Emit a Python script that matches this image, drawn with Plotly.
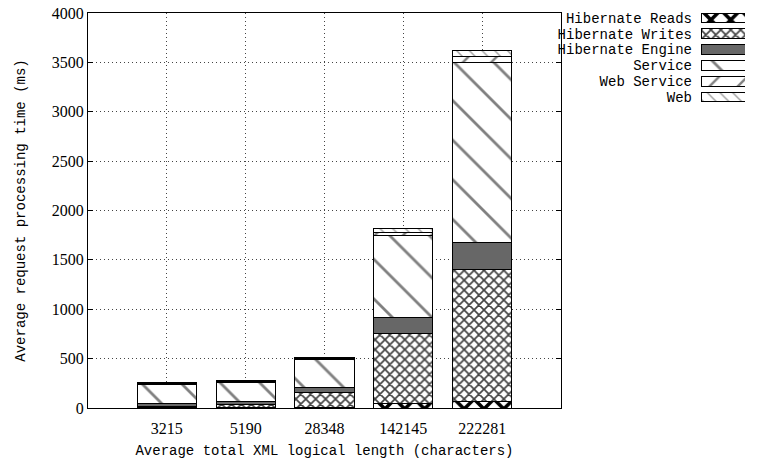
import plotly.graph_objects as go

# Average total XML logical length (characters) of each workload
categories = ["3215", "5190", "28348", "142145", "222281"]

# Average request processing time (ms) per component, stacked bottom to top
hibernate_reads = [5, 8, 10, 43, 70]
hibernate_writes = [8, 28, 142, 715, 1331]
hibernate_engine = [35, 30, 51, 162, 270]
service = [190, 190, 287, 827, 1823]
web_service = [15, 15, 12, 34, 67]
web = [10, 12, 10, 34, 61]

series_names = ["Hibernate Reads", "Hibernate Writes", "Hibernate Engine",
                "Service", "Web Service", "Web"]
series_values = [hibernate_reads, hibernate_writes, hibernate_engine,
                 service, web_service, web]

y_ticks = [0, 500, 1000, 1500, 2000, 2500, 3000, 3500, 4000]

FONT = "Liberation Mono"
NUM_FONT = "Liberation Serif"


def hatch(shape, fg, size, solidity):
    return dict(shape=shape, fgcolor=fg, bgcolor="white", fgopacity=1,
                size=size, solidity=solidity, fillmode="replace")


# fill style per component
styles = {
    "Hibernate Reads": dict(color="white", pattern=hatch("x", "#000000", 14, 0.45)),
    "Hibernate Writes": dict(color="white", pattern=hatch("x", "#444444", 7, 0.42)),
    "Hibernate Engine": dict(color="#676767"),
    "Service": dict(color="white", pattern=hatch("\\", "#808080", 28, 0.1)),
    "Web Service": dict(color="white", pattern=hatch("/", "#808080", 20, 0.12)),
    "Web": dict(color="white", pattern=hatch("\\", "#a0a0a0", 9, 0.16)),
}

fig = go.Figure()

for name, vals in zip(series_names, series_values):
    st = styles[name]
    fig.add_trace(go.Bar(
        x=categories, y=vals, name=name, showlegend=False,
        marker=dict(color=st["color"], pattern=st.get("pattern"),
                    line=dict(color="black", width=1)),
        xaxis="x", yaxis="y",
    ))

# key: one short horizontal bar per component, labelled by the category axis
KEY_LEN = 1
for name in series_names:
    st = styles[name]
    fig.add_trace(go.Bar(
        x=[KEY_LEN], y=[name], orientation="h", showlegend=False, width=0.62,
        marker=dict(color=st["color"], pattern=st.get("pattern"),
                    line=dict(color="black", width=1)),
        xaxis="x2", yaxis="y2", hoverinfo="skip",
    ))

fig.update_layout(
    width=761, height=466,
    margin=dict(l=88, r=10, t=10, b=58),
    paper_bgcolor="white", plot_bgcolor="white",
    barmode="stack", bargap=0.25,
    font=dict(family=FONT, size=14, color="black"),
    xaxis=dict(
        domain=[0, 0.7134], type="category", range=[-1, 5], automargin=False,
        showgrid=True, gridcolor="#444444", griddash="1px,3px", gridwidth=1,
        showline=True, linecolor="black", linewidth=1, mirror=True,
        ticks="", ticklabelstandoff=6, tickfont=dict(family=NUM_FONT, size=16),
        title=dict(text="Average total XML logical length (characters)",
                   font=dict(family=FONT, size=14), standoff=8),
        zeroline=False,
    ),
    yaxis=dict(
        domain=[0, 0.9925], range=[0, 4000], tickvals=y_ticks, automargin=False,
        showgrid=True, gridcolor="#444444", griddash="1px,3px", gridwidth=1,
        showline=True, linecolor="black", linewidth=1, mirror="ticks",
        ticks="inside", ticklen=5, tickcolor="black",
        tickfont=dict(family=NUM_FONT, size=16),
        title=dict(text="Average request processing time (ms)",
                   font=dict(family=FONT, size=14), standoff=22),
        zeroline=False,
    ),
    xaxis2=dict(domain=[0.9246, 0.9910], range=[0, KEY_LEN], anchor="y2",
                showgrid=False, showticklabels=False, showline=False, zeroline=False,
                fixedrange=True, automargin=False),
    yaxis2=dict(domain=[0.7613, 1.0], anchor="x2", type="category",
                categoryorder="array", categoryarray=series_names[::-1],
                tickmode="array", tickvals=series_names, ticktext=series_names,
                showgrid=False, showline=False, zeroline=False, ticks="",
                ticklabelstandoff=8, tickfont=dict(family=FONT, size=14),
                fixedrange=True, automargin=False),
)

fig.write_html("out.html")
